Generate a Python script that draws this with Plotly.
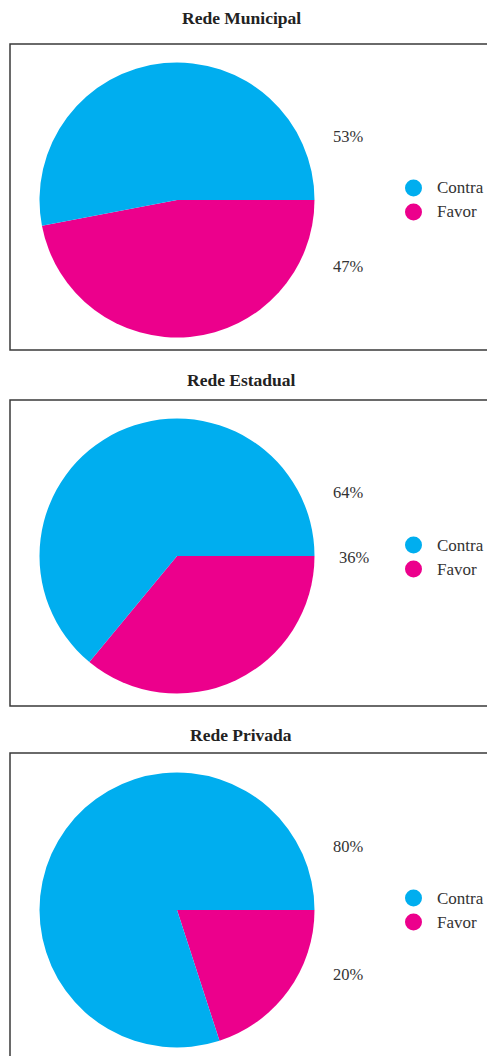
import plotly.graph_objects as go

# Opinion shares by school network
networks = ["Rede Municipal", "Rede Estadual", "Rede Privada"]
categories = ["Contra", "Favor"]
contra = [53, 64, 80]
favor = [47, 36, 20]

colors = ["#00AEEF", "#EC008C"]
W, H = 487, 1056
FONT = "Liberation Serif, Times New Roman, serif"

def px(x):
    return x / W

def py(y):
    return 1 - y / H

fig = go.Figure()

# Layout of each panel in pixels: box top/bottom, pie center y, title y,
# percentage label rows, legend rows
panels = [
    dict(box=(44, 350), cy=200, title=18, labels=[(331, 136), (331, 266)], legend=(188, 212)),
    dict(box=(400, 706), cy=556, title=380, labels=[(331, 493), (337, 557)], legend=(545, 569)),
    dict(box=(753, 1110), cy=910, title=735, labels=[(331, 846), (331, 974)], legend=(898, 922)),
]
R = 137.5
CX = 177

shapes = []
annotations = []
for i, (name, p) in enumerate(zip(networks, panels)):
    values = [contra[i], favor[i]]
    # Favor is laid clockwise from 3 o'clock, so Contra fills the arc
    # running counterclockwise from 3 o'clock
    fig.add_trace(go.Pie(
        labels=categories[::-1],
        values=values[::-1],
        marker=dict(colors=colors[::-1], line=dict(width=0)),
        sort=False,
        direction="clockwise",
        rotation=90,
        textinfo="none",
        hoverinfo="label+percent",
        showlegend=False,
        domain=dict(x=[px(CX - R), px(CX + R)], y=[py(p["cy"] + R), py(p["cy"] - R)]),
    ))

    # panel frame (right edge runs past the page)
    shapes.append(dict(type="rect", xref="paper", yref="paper",
                       x0=px(10), x1=px(520), y0=py(p["box"][1]), y1=py(p["box"][0]),
                       line=dict(color="#3a3a3a", width=1.5), layer="below"))

    annotations.append(dict(text="<b>" + name + "</b>", x=px(241), y=py(p["title"]),
                            xref="paper", yref="paper", showarrow=False,
                            xanchor="center", yanchor="middle",
                            font=dict(family=FONT, size=17.5, color="#222")))

    for v, (lx, ly) in zip(values, p["labels"]):
        annotations.append(dict(text=f"{v}%", x=px(lx), y=py(ly),
                                xref="paper", yref="paper", showarrow=False,
                                xanchor="left", yanchor="middle",
                                font=dict(family=FONT, size=16.5, color="#333")))

    for cat, col, ly in zip(categories, colors, p["legend"]):
        shapes.append(dict(type="circle", xref="paper", yref="paper",
                           x0=px(405), x1=px(422), y0=py(ly + 8.5), y1=py(ly - 8.5),
                           fillcolor=col, line=dict(width=0)))
        annotations.append(dict(text=cat, x=px(435), y=py(ly),
                                xref="paper", yref="paper", showarrow=False,
                                xanchor="left", yanchor="middle",
                                font=dict(family=FONT, size=17, color="#333")))

fig.update_layout(
    width=W, height=H,
    margin=dict(l=0, r=0, t=0, b=0),
    paper_bgcolor="white",
    plot_bgcolor="white",
    shapes=shapes,
    annotations=annotations,
)

fig.write_html("out.html")
